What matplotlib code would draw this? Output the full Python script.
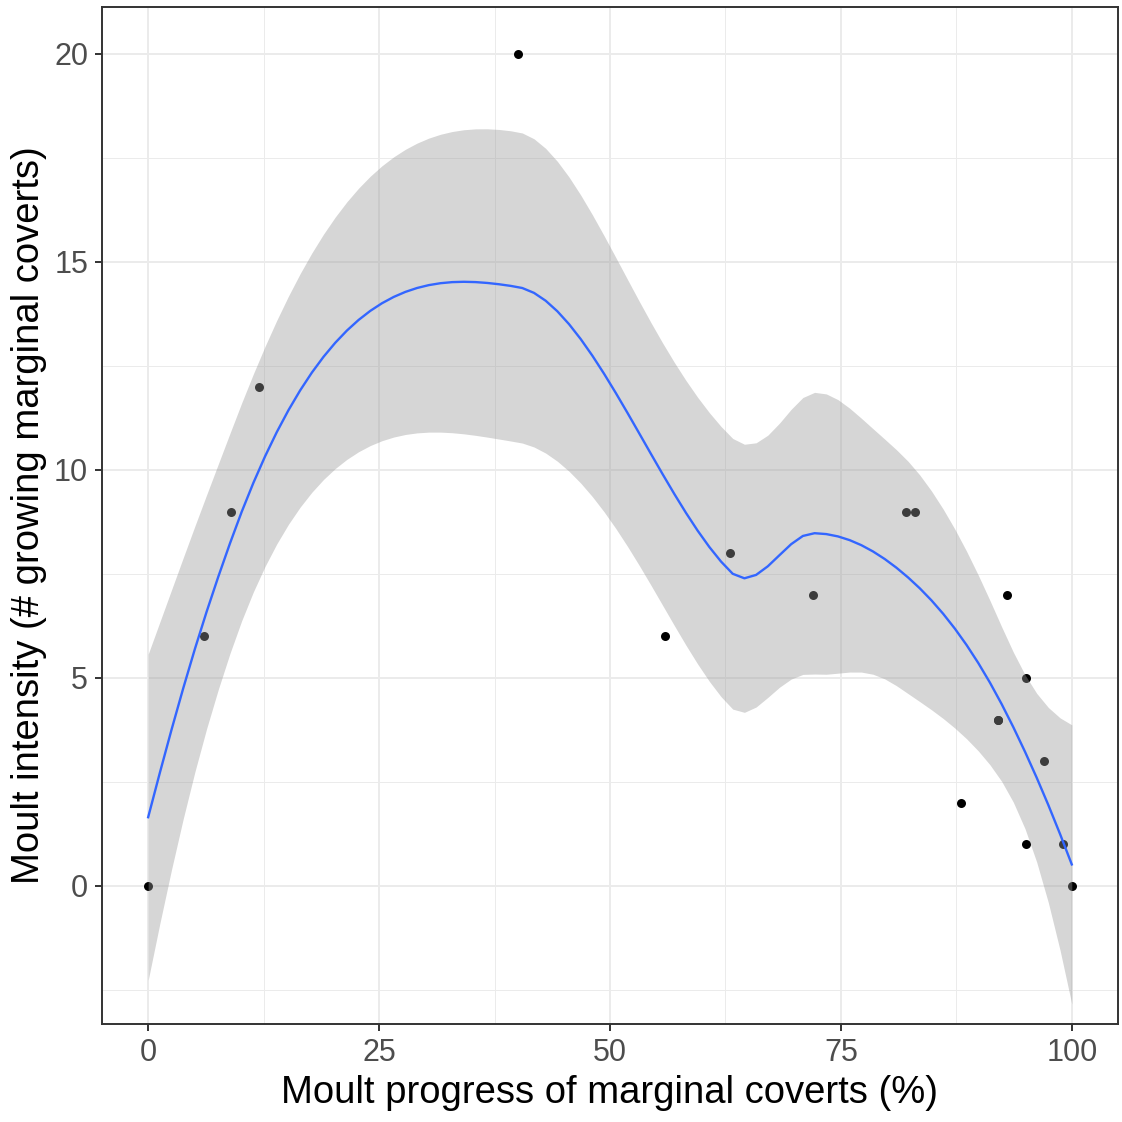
import math
import numpy as np
import matplotlib
matplotlib.use("Agg")
import matplotlib.pyplot as plt
from matplotlib.ticker import MultipleLocator

# Data (two birds share the 92 % / 4 spot, the marks overlap)
progress = [0, 6, 9, 12, 40, 56, 63, 72, 82, 83, 88, 92, 92, 93, 95, 95, 97, 99, 100]
intensity = [0, 6, 9, 12, 20, 6, 8, 7, 9, 9, 2, 4, 4, 7, 5, 1, 3, 1, 0]

x = np.array(progress, dtype=float)
y = np.array(intensity, dtype=float)
SPAN = 0.75


# loess (span 0.75, degree 2, kd-tree + cubic interpolation) like R's loess
def local_rows(x0, xs):
    n = len(xs)
    q = int(math.floor(n * SPAN))
    d = np.abs(xs - x0)
    h = np.sort(d)[q - 1]
    u = np.clip(d / h, 0, 1)
    w = (1 - u ** 3) ** 3
    X = np.column_stack([np.ones(n), xs - x0, (xs - x0) ** 2])
    XW = X.T * w
    B = np.linalg.solve(XW @ X, XW)
    return B[0], B[1]


def kd_vertices(xs):
    s = np.sort(xs)
    n = len(s)
    mu = 0.005 * (s[-1] - s[0])
    lo_b, hi_b = s[0] - mu, s[-1] + mu
    fc = int(math.floor(n * SPAN * 0.2))
    verts = {lo_b, hi_b}

    def split(l, u, vlo, vhi):
        if u - l + 1 <= fc:
            return
        m = (l + u) // 2
        off = 0
        while l <= m + off < u:
            if s[m + off] == s[m + off + 1]:
                off = -off
                if off >= 0:
                    off += 1
            else:
                m = m + off
                break
        v = s[m]
        if v == vlo or v == vhi:
            return
        verts.add(v)
        split(l, m, vlo, v)
        split(m + 1, u, v, vhi)

    split(0, n - 1, lo_b, hi_b)
    return np.array(sorted(verts))


verts = kd_vertices(x)
vrows = [local_rows(v, x) for v in verts]


def interp_row(z):
    j = min(np.searchsorted(verts, z, side="right") - 1, len(verts) - 2)
    v0, v1 = verts[j], verts[j + 1]
    h = v1 - v0
    t = (z - v0) / h
    phi0 = (1 - t) ** 2 * (1 + 2 * t)
    phi1 = t ** 2 * (3 - 2 * t)
    psi0 = t * (1 - t) ** 2
    psi1 = -t ** 2 * (1 - t)
    return (phi0 * vrows[j][0] + phi1 * vrows[j + 1][0]
            + (psi0 * vrows[j][1] + psi1 * vrows[j + 1][1]) * h)


def t_quantile(p, df):
    c = math.gamma((df + 1) / 2) / (math.sqrt(df * math.pi) * math.gamma(df / 2))

    def cdf(t):
        s = np.linspace(0, t, 4001)
        f = c * (1 + s ** 2 / df) ** (-(df + 1) / 2)
        return 0.5 + np.trapezoid(f, s)
    lo, hi = 0.0, 20.0
    for _ in range(80):
        mid = (lo + hi) / 2
        if cdf(mid) < p:
            lo = mid
        else:
            hi = mid
    return (lo + hi) / 2


n = len(x)
L = np.array([interp_row(xi) for xi in x])
resid = y - L @ y
M = (np.eye(n) - L).T @ (np.eye(n) - L)
delta1 = np.trace(M)
delta2 = np.trace(M @ M)
sigma = math.sqrt(resid @ resid / delta1)
tq = t_quantile(0.975, delta1 ** 2 / delta2)

grid = np.linspace(x.min(), x.max(), 80)
lg = np.array([interp_row(g) for g in grid])
fit = lg @ y
se = sigma * np.sqrt((lg ** 2).sum(axis=1))
lower = fit - tq * se
upper = fit + tq * se

plt.rcParams['font.family'] = ['Liberation Sans', 'DejaVu Sans']

fig = plt.figure(figsize=(11.22, 11.22), dpi=100)
ax = fig.add_axes([0.0909, 0.0873, 0.9055, 0.9065])

ax.scatter(x, y, s=42, color="black", linewidths=0, zorder=3)
ax.fill_between(grid, lower, upper, color="#999999", alpha=0.4, linewidth=0, zorder=4)
ax.plot(grid, fit, color="#3366FF", lw=1.7, zorder=5)

ax.set_xlim(-5, 105)
ax.set_ylim(-3.32, 21.13)
ax.xaxis.set_major_locator(MultipleLocator(25))
ax.xaxis.set_minor_locator(MultipleLocator(12.5))
ax.yaxis.set_major_locator(MultipleLocator(5))
ax.yaxis.set_minor_locator(MultipleLocator(2.5))
ax.grid(which="major", color="#EBEBEB", lw=1.4, zorder=0)
ax.grid(which="minor", color="#EBEBEB", lw=0.7, zorder=0)
ax.set_axisbelow(True)

for s in ax.spines.values():
    s.set_color("#333333")
    s.set_linewidth(1.4)

ax.tick_params(which="major", length=5, width=1.4, color="#333333",
               labelsize=22, labelcolor="#4D4D4D", pad=5)
ax.tick_params(which="minor", length=0)

ax.set_xlabel("Moult progress of marginal coverts (%)", fontsize=27.5, color="black", labelpad=5)
ax.set_ylabel("Moult intensity (# growing marginal coverts)", fontsize=27.5, color="black", labelpad=5)

fig.savefig("out.png", dpi=100)
